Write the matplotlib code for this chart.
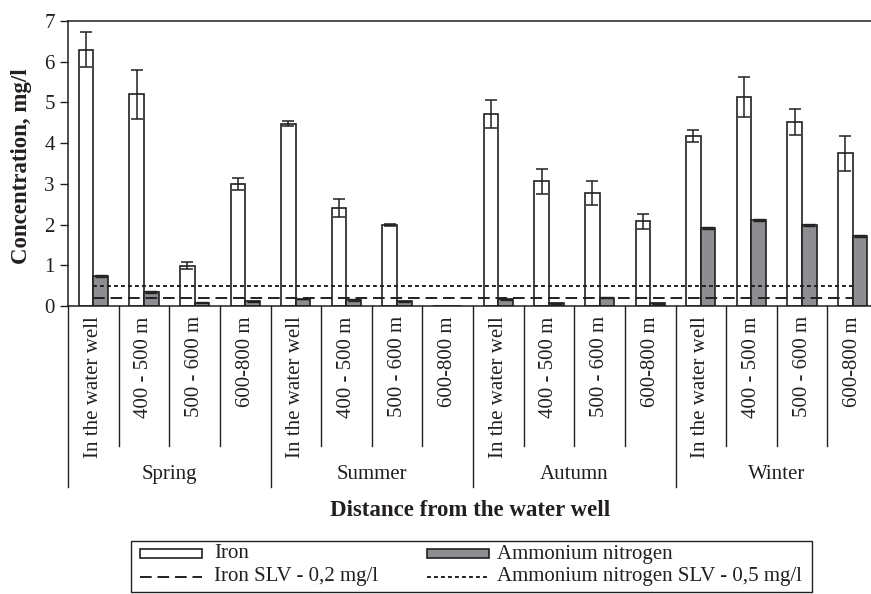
import numpy as np
import matplotlib
matplotlib.use("Agg")
import matplotlib.pyplot as plt
from matplotlib.patches import Rectangle
from matplotlib.lines import Line2D

plt.rcParams["font.family"] = ["Liberation Serif", "DejaVu Serif"]
INK = "#231f20"

seasons = ["Spring", "Summer", "Autumn", "Winter"]
distances = ["In the water well", "400 - 500 m", "500 - 600 m", "600-800 m"]

# iron concentration, mg/l (4 distances per season)
iron = [6.30, 5.20, 0.99, 3.00,
        4.48, 2.41, 1.99, 0.0,
        4.72, 3.06, 2.77, 2.08,
        4.18, 5.13, 4.52, 3.75]
iron_err = [0.43, 0.60, 0.08, 0.14,
            0.07, 0.23, 0.03, 0.0,
            0.35, 0.31, 0.29, 0.19,
            0.15, 0.50, 0.31, 0.43]

# ammonium nitrogen, mg/l
ammonium = [0.73, 0.35, 0.08, 0.12,
            0.17, 0.15, 0.12, 0.01,
            0.16, 0.07, 0.20, 0.07,
            1.91, 2.11, 1.99, 1.72]
ammonium_err = [0.02, 0.02, 0.01, 0.01,
                0.01, 0.02, 0.01, 0.0,
                0.01, 0.01, 0.01, 0.01,
                0.02, 0.02, 0.02, 0.02]

iron_slv = 0.2
ammonium_slv = 0.5

W, H = 871, 594
fig = plt.figure(figsize=(W / 100, H / 100), dpi=100)
# plot area runs a bit past the right edge of the picture, as in the original
ax = fig.add_axes([68 / W, 288 / H, 810 / W, 285 / H])

n = len(iron)
x = np.arange(n)
bw = 0.29

ax.bar(x - bw / 2, iron, bw, color="white", edgecolor=INK, linewidth=1.2, zorder=2)
ax.bar(x + bw / 2, ammonium, bw, color="#8e8e92", edgecolor=INK, linewidth=1.2, zorder=2)

ie = np.array(iron_err)
m = ie > 0
ax.errorbar((x - bw / 2)[m], np.array(iron)[m], yerr=ie[m], fmt="none",
            ecolor=INK, elinewidth=1.1, capsize=4.3, capthick=1.1, zorder=3)
ae = np.array(ammonium_err)
m = ae > 0
ax.errorbar((x + bw / 2)[m], np.array(ammonium)[m], yerr=ae[m], fmt="none",
            ecolor=INK, elinewidth=1.0, capsize=4.3, capthick=1.0, zorder=3)

# SLV lines across the categories
ax.plot(x, [iron_slv] * n, color=INK, linewidth=1.4, dashes=(6, 3), zorder=4)
ax.plot(x, [ammonium_slv] * n, color=INK, linewidth=1.4, dashes=(2, 1.6), zorder=4)

ax.set_xlim(-0.5, n - 0.5)
ax.set_ylim(0, 7)
ax.set_yticks(range(0, 8))
ax.tick_params(axis="y", direction="out", length=6, width=1, colors=INK,
               labelsize=15, pad=3.5)
ax.tick_params(axis="x", length=0, labelbottom=False)
for side in ["left", "bottom", "top", "right"]:
    ax.spines[side].set_color(INK)
    ax.spines[side].set_linewidth(1.1)

# two level category axis
trans = ax.get_xaxis_transform()
for i, lab in enumerate(distances * len(seasons)):
    ax.text(i, -0.036, lab, transform=trans, rotation=90, ha="center", va="top",
            fontsize=15, color=INK)
for b in range(n + 1):
    low = -0.635 if b % 4 == 0 else -0.491
    ax.plot([b - 0.5, b - 0.5], [0, low], transform=trans, color=INK,
            linewidth=1.0, clip_on=False)
for k, s in enumerate(seasons):
    ax.text(4 * k + 1.5, -0.59, s, transform=trans, ha="center", va="center",
            fontsize=15, color=INK)

ax.text(470, H - 510, "Distance from the water well", transform=None,
        ha="center", va="center", fontsize=16.5, fontweight="bold", color=INK)
fig.text(22 / W, (H - 166) / H, "Concentration, mg/l", rotation=90,
         ha="center", va="center", fontsize=16.5, fontweight="bold", color=INK)

# legend box (drawn by hand: the original is cut at the edge)
def px(xp, yp):
    return xp / W, (H - yp) / H

box_l, box_r, box_t, box_b = 131, 812, 541, 592
fig.patches.append(Rectangle(px(box_l, box_b), (box_r - box_l) / W,
                             (box_b - box_t) / H, transform=fig.transFigure,
                             fill=False, edgecolor=INK, linewidth=1.0))
row1, row2 = 554, 577
for hx0, hx1, tx, face, lab in [(140, 202, 214, "white", "Iron"),
                                (427, 489, 497, "#8e8e92", "Ammonium nitrogen")]:
    fig.patches.append(Rectangle(px(hx0, row1 + 4), (hx1 - hx0) / W, 9 / H,
                                 transform=fig.transFigure, facecolor=face,
                                 edgecolor=INK, linewidth=1.2))
    fig.text(*px(tx, row1), lab, ha="left", va="center", fontsize=15, color=INK)
for hx0, hx1, tx, dsh, lab in [(140, 202, 214, (6, 3), "Iron SLV - 0,2 mg/l"),
                               (427, 489, 497, (2, 1.6), "Ammonium nitrogen SLV - 0,5 mg/l")]:
    x0, y0 = px(hx0, row2)
    x1, _ = px(hx1, row2)
    fig.lines.append(Line2D([x0, x1], [y0, y0], transform=fig.transFigure,
                            color=INK, linewidth=1.4, dashes=dsh))
    fig.text(*px(tx, row2), lab, ha="left", va="center", fontsize=15, color=INK)

fig.savefig("out.png", dpi=100)
